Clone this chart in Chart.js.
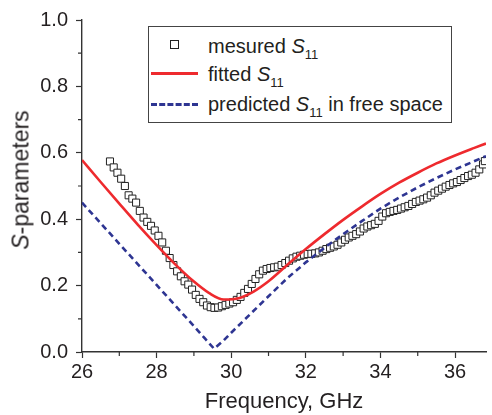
<!DOCTYPE html>
<html lang="en">
<head>
    <meta charset="UTF-8">
    <title>S-parameters vs frequency</title>
    <script src="https://cdn.jsdelivr.net/npm/chart.js"></script>
    <style>
        body { margin: 0; background: #fff; font-family: "Liberation Sans", Arial, sans-serif; color: #231f20; }
        #wrap { position: relative; width: 492px; height: 415px; }
        #ytitle {
            position: absolute; left: 21px; top: 180px;
            transform: translate(-50%, -50%) rotate(-90deg);
            font-size: 23px; white-space: nowrap;
        }
        #legend {
            position: absolute; left: 148px; top: 26px; width: 304px; height: 97px;
            border: 1px solid #444; background: #fff; box-sizing: border-box;
        }
        .row { position: absolute; left: 59px; font-size: 20px; white-space: nowrap; line-height: 20px; }
        .row sub { font-size: 13px; vertical-align: -6px; line-height: 0; }
        .sym { position: absolute; }
    </style>
</head>
<body>
<div id="wrap">
    <canvas id="chart" width="492" height="415"></canvas>
    <div id="ytitle"><i>S</i>-parameters</div>
    <div id="legend">
        <div class="sym" style="left:21px; top:13px; width:7px; height:7px; border:1px solid #222;"></div>
        <div class="row" style="top:9px;">mesured <i>S</i><sub>11</sub></div>
        <div class="sym" style="left:2px; top:45px; width:47px; border-top:3px solid #ee2a2e;"></div>
        <div class="row" style="top:37px;">fitted <i>S</i><sub>11</sub></div>
        <div class="sym" style="left:2px; top:76px; width:47px; border-top:3px dashed #2e3592;"></div>
        <div class="row" style="top:67px;">predicted <i>S</i><sub>11</sub> in free space</div>
    </div>
</div>
<script>
    const measFreq = [26.75, 26.85, 26.95, 27.05, 27.15, 27.25, 27.35, 27.45, 27.55, 27.65,
        27.75, 27.85, 27.95, 28.05, 28.15, 28.25, 28.35, 28.45, 28.55, 28.65,
        28.75, 28.85, 28.95, 29.05, 29.15, 29.25, 29.35, 29.45, 29.55, 29.65,
        29.75, 29.85, 29.95, 30.05, 30.15, 30.25, 30.35, 30.45, 30.55, 30.65,
        30.75, 30.85, 30.95, 31.05, 31.15, 31.25, 31.35, 31.45, 31.55, 31.65,
        31.75, 31.85, 31.95, 32.05, 32.15, 32.25, 32.35, 32.45, 32.55, 32.65,
        32.75, 32.85, 32.95, 33.05, 33.15, 33.25, 33.35, 33.45, 33.55, 33.65,
        33.75, 33.85, 33.95, 34.05, 34.15, 34.25, 34.35, 34.45, 34.55, 34.65,
        34.75, 34.85, 34.95, 35.05, 35.15, 35.25, 35.35, 35.45, 35.55, 35.65,
        35.75, 35.85, 35.95, 36.05, 36.15, 36.25, 36.35, 36.45, 36.55, 36.65,
        36.75, 36.80];
    const measS11 = [0.574, 0.556, 0.540, 0.522, 0.500, 0.472, 0.462, 0.450, 0.425, 0.405,
        0.392, 0.380, 0.366, 0.350, 0.330, 0.305, 0.283, 0.262, 0.243, 0.228,
        0.213, 0.203, 0.188, 0.172, 0.160, 0.150, 0.140, 0.135, 0.133, 0.134,
        0.138, 0.142, 0.146, 0.150, 0.157, 0.166, 0.178, 0.190, 0.205, 0.220,
        0.234, 0.245, 0.250, 0.253, 0.255, 0.257, 0.262, 0.268, 0.275, 0.282,
        0.287, 0.290, 0.293, 0.295, 0.296, 0.297, 0.300, 0.305, 0.310, 0.314,
        0.318, 0.323, 0.330, 0.338, 0.345, 0.350, 0.355, 0.363, 0.372, 0.378,
        0.382, 0.386, 0.395, 0.408, 0.418, 0.422, 0.425, 0.428, 0.432, 0.436,
        0.440, 0.446, 0.452, 0.456, 0.460, 0.465, 0.472, 0.480, 0.486, 0.492,
        0.498, 0.503, 0.508, 0.512, 0.518, 0.524, 0.530, 0.534, 0.540, 0.550,
        0.565, 0.575];

    // fitted S11
    const fitFreq = [26.0, 26.5, 27.0, 27.5, 28.0, 28.5, 29.0, 29.4, 29.8, 30.2, 30.6, 31.0,
        31.5, 32.0, 32.5, 33.0, 33.5, 34.0, 34.5, 35.0, 35.5, 36.0, 36.5, 36.83];
    const fitS11 = [0.578, 0.512, 0.447, 0.383, 0.322, 0.264, 0.212, 0.178, 0.158, 0.162, 0.182, 0.213,
        0.262, 0.310, 0.355, 0.398, 0.438, 0.476, 0.510, 0.540, 0.568, 0.592, 0.614, 0.628];

    // predicted S11 in free space
    const predFreq = [26.0, 26.5, 27.0, 27.5, 28.0, 28.5, 29.0, 29.3, 29.54, 29.8, 30.0, 30.5,
        31.0, 31.5, 32.0, 32.5, 33.0, 33.5, 34.0, 34.5, 35.0, 35.5, 36.0, 36.5, 36.83];
    const predS11 = [0.450, 0.388, 0.326, 0.264, 0.202, 0.140, 0.078, 0.040, 0.010, 0.035, 0.058, 0.113,
        0.168, 0.222, 0.270, 0.314, 0.355, 0.394, 0.432, 0.465, 0.496, 0.524, 0.550, 0.574, 0.590];

    const xTicks = [26, 28, 30, 32, 34, 36];
    const xMinor = [27, 29, 31, 33, 35];
    const yTicks = [0, 0.2, 0.4, 0.6, 0.8, 1.0];
    const yMinor = [0.1, 0.3, 0.5, 0.7, 0.9];

    const pts = (xs, ys) => xs.map((x, i) => ({ x: x, y: ys[i] }));
    const axisColor = '#333';
    const textColor = '#231f20';

    // short minor ticks, drawn through the scales
    const minorTicks = {
        id: 'minorTicks',
        afterDraw(chart) {
            const c = chart.ctx, xs = chart.scales.x, ys = chart.scales.y;
            c.save();
            c.strokeStyle = axisColor;
            c.lineWidth = 1.2;
            c.beginPath();
            xMinor.forEach(v => {
                const p = xs.getPixelForValue(v);
                c.moveTo(p, xs.top); c.lineTo(p, xs.top + 4);
            });
            yMinor.forEach(v => {
                const p = ys.getPixelForValue(v);
                c.moveTo(ys.right, p); c.lineTo(ys.right - 4, p);
            });
            c.stroke();
            c.restore();
        }
    };

    new Chart(document.getElementById('chart'), {
        type: 'scatter',
        data: {
            datasets: [
                {
                    label: 'predicted S11 in free space',
                    data: pts(predFreq, predS11),
                    showLine: true,
                    borderColor: '#2e3592',
                    borderWidth: 2.6,
                    borderDash: [6, 4],
                    pointRadius: 0,
                    tension: 0,
                    order: 1
                },
                {
                    label: 'fitted S11',
                    data: pts(fitFreq, fitS11),
                    showLine: true,
                    borderColor: '#ee2a2e',
                    borderWidth: 2.6,
                    pointRadius: 0,
                    cubicInterpolationMode: 'monotone',
                    order: 2
                },
                {
                    label: 'mesured S11',
                    data: pts(measFreq, measS11),
                    showLine: false,
                    pointStyle: 'rect',
                    pointRadius: 5,
                    pointBackgroundColor: '#fff',
                    pointBorderColor: '#222',
                    pointBorderWidth: 1,
                    order: 3
                }
            ]
        },
        options: {
            responsive: false,
            animation: false,
            devicePixelRatio: 1,
            layout: { padding: { top: 14, right: 0, bottom: 0, left: 0 } },
            plugins: { legend: { display: false }, tooltip: { enabled: false } },
            scales: {
                x: {
                    type: 'linear',
                    min: 26,
                    max: 36.83,
                    afterBuildTicks: s => { s.ticks = xTicks.map(v => ({ value: v })); },
                    afterFit: s => { s.height = 63; },
                    grid: { drawOnChartArea: false, tickLength: 6, tickColor: axisColor, tickWidth: 1.2 },
                    border: { color: axisColor, width: 1.4 },
                    ticks: {
                        color: textColor,
                        padding: 2,
                        font: { family: '"Liberation Sans", Arial, sans-serif', size: 20 },
                        callback: v => String(v)
                    },
                    title: {
                        display: true,
                        text: 'Frequency, GHz',
                        color: textColor,
                        padding: { top: 0, bottom: 0 },
                        font: { family: '"Liberation Sans", Arial, sans-serif', size: 22 }
                    }
                },
                y: {
                    type: 'linear',
                    min: 0,
                    max: 1.0,
                    afterBuildTicks: s => { s.ticks = yTicks.map(v => ({ value: v })); },
                    afterFit: s => { s.width = 82; },
                    grid: { drawOnChartArea: false, tickLength: 6, tickColor: axisColor, tickWidth: 1.2 },
                    border: { color: axisColor, width: 1.4 },
                    ticks: {
                        color: textColor,
                        padding: 8,
                        font: { family: '"Liberation Sans", Arial, sans-serif', size: 20 },
                        callback: v => v.toFixed(1)
                    }
                }
            }
        },
        plugins: [minorTicks]
    });
</script>
</body>
</html>
